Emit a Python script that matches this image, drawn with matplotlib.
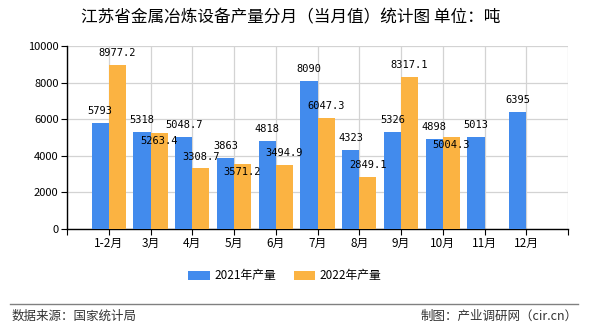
import numpy as np
import matplotlib
matplotlib.use('Agg')
import matplotlib.pyplot as plt
from matplotlib.lines import Line2D

plt.rcParams['font.family'] = ['Noto Sans CJK SC', 'DejaVu Sans']

months = ['1-2月', '3月', '4月', '5月', '6月', '7月', '8月', '9月', '10月', '11月', '12月']
prod_2021 = [5793, 5318, 5048.7, 3863, 4818, 8090, 4323, 5326, 4898, 5013, 6395]
prod_2022 = [8977.2, 5263.4, 3308.7, 3571.2, 3494.9, 6047.3, 2849.1, 8317.1, 5004.3, None, None]

blue = '#428bed'
orange = '#fbb342'

fig = plt.figure(figsize=(5.9, 3.3), dpi=100)
ax = fig.add_axes([67/590, 1-229/330, (568-67)/590, (229-46)/330])

x = np.arange(len(months))
w = 0.41
ax.bar(x - w/2, prod_2021, w, color=blue, label='2021年产量', zorder=3)
x22 = [i for i, v in enumerate(prod_2022) if v is not None]
v22 = [prod_2022[i] for i in x22]
ax.bar(np.array(x22) + w/2, v22, w, color=orange, label='2022年产量', zorder=3)

lab_font = dict(family='DejaVu Sans Mono', fontsize=7.5, color='black')


def fmt(v):
    return ('%g' % v)


for i, v in enumerate(prod_2021):
    ax.annotate(fmt(v), (i - w/2, v), xytext=(0, 8.6), textcoords='offset points',
                ha='center', va='center', zorder=5, **lab_font)
for i, v in zip(x22, v22):
    # shift label down into the bar when it would collide with the 2021 label
    off = 8.6
    if abs(prod_2021[i] - v) < 800:
        off = -5.8
    ax.annotate(fmt(v), (i + w/2, v), xytext=(0, off), textcoords='offset points',
                ha='center', va='center', zorder=5, **lab_font)

ax.set_xlim(-1, 11)
ax.set_ylim(0, 10000)
ax.set_xticks(np.arange(-1, 12))
ax.set_xticklabels([''] + months + [''], fontsize=8.5)
ax.set_yticks(np.arange(0, 10001, 2000))
ax.tick_params(axis='y', labelsize=8, length=4, color='black', pad=2)
ax.tick_params(axis='x', length=4, color='black', pad=2)
ax.grid(True, color='#d3d3d3', linewidth=0.9, zorder=0)
for s in ['top', 'right']:
    ax.spines[s].set_visible(False)
for s in ['left', 'bottom']:
    ax.spines[s].set_color('black')
    ax.spines[s].set_linewidth(1)

fig.text(291/590, 1-18/330, '江苏省金属冶炼设备产量分月（当月值）统计图 单位：吨',
         ha='center', va='center', fontsize=12, fontweight='medium')

fig.legend(loc='center', bbox_to_anchor=(285/590, 1-276/330), ncol=2, frameon=False,
           fontsize=8.5, handlelength=1.8, handleheight=0.7, columnspacing=1.5, handletextpad=0.4)

fig.add_artist(Line2D([10/590, 578/590], [1-304/330]*2, color='#808080', linewidth=1))
fig.text(12/590, 1-316/330, '数据来源：国家统计局', ha='left', va='center', fontsize=9, color='#333333')
fig.text(578/590, 1-316/330, '制图：产业调研网（cir.cn）', ha='right', va='center', fontsize=9, color='#333333')

fig.savefig('out.png', dpi=100)
